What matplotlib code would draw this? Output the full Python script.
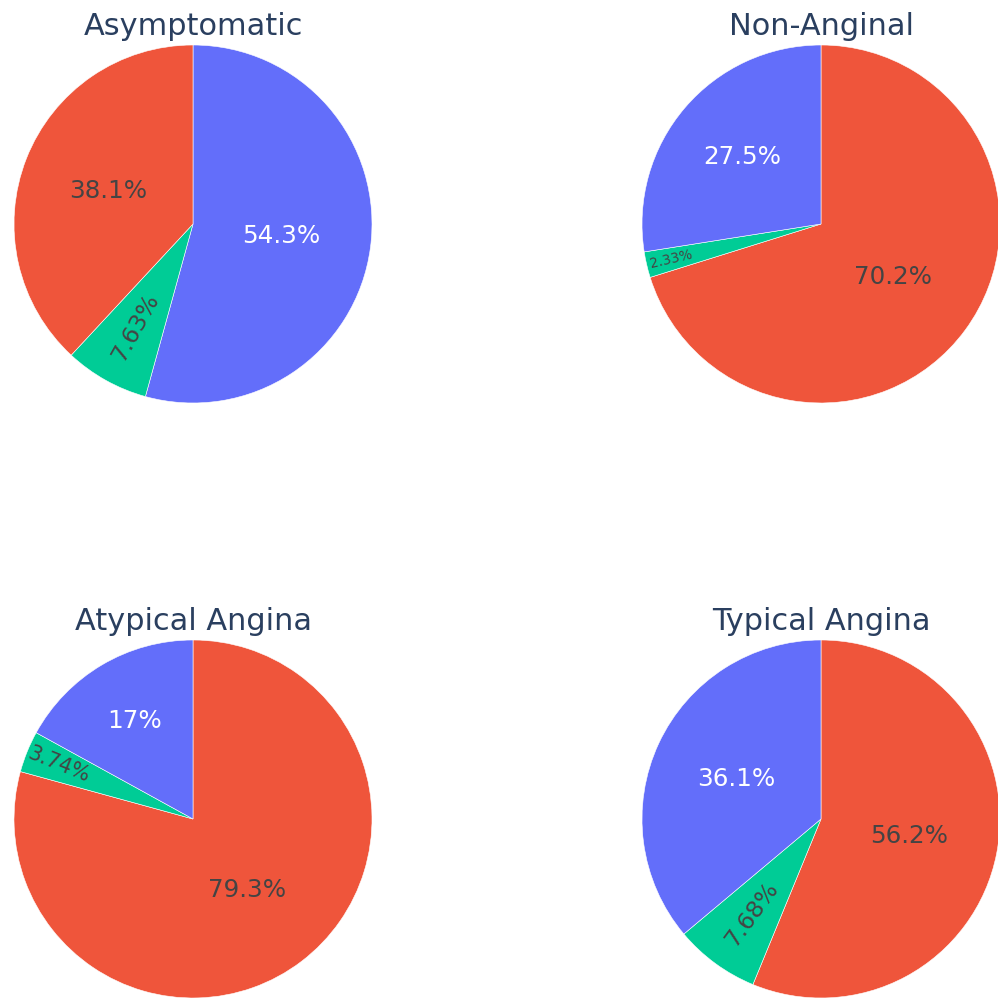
import numpy as np
import matplotlib
matplotlib.use("Agg")
import matplotlib.pyplot as plt

# ---- data ----
titles = ["Asymptomatic", "Non-Anginal", "Atypical Angina", "Typical Angina"]
group_a = [54.3, 27.5, 17.0, 36.1]    # blue
group_b = [38.1, 70.2, 79.3, 56.2]    # red
group_c = [7.63, 2.33, 3.74, 7.68]    # green
# slice order, clockwise from 12 o'clock, for each pie
slice_order = [
    ["Group A", "Group C", "Group B"],
    ["Group B", "Group C", "Group A"],
    ["Group B", "Group C", "Group A"],
    ["Group B", "Group C", "Group A"],
]

values = {"Group A": group_a, "Group B": group_b, "Group C": group_c}
colors = {"Group A": "#636EFA", "Group B": "#EF553B", "Group C": "#00CC96"}
textcolors = {"Group A": "white", "Group B": "#444444", "Group C": "#444444"}

W = H = 998
R_PX = 179
centers_px = [(193, 224), (821, 224), (193, 819), (821, 819)]
BASE_FS = 17.7

fig = plt.figure(figsize=(W / 100, H / 100), dpi=100)
fig.patch.set_facecolor("white")

for i, title in enumerate(titles):
    cx, cy = centers_px[i]
    ax = fig.add_axes([(cx - R_PX) / W, (H - cy - R_PX) / H, 2 * R_PX / W, 2 * R_PX / H])
    ax.axis("off")

    labels = slice_order[i]
    v = [values[l][i] for l in labels]
    wedges, _ = ax.pie(v, colors=[colors[l] for l in labels], startangle=90,
                       counterclock=False, radius=1, center=(0, 0),
                       wedgeprops=dict(linewidth=0.4, edgecolor="white"), frame=False)
    ax.set_xlim(-1, 1)
    ax.set_ylim(-1, 1)
    ax.set_aspect("auto")

    total = sum(v)
    for w, val, lab in zip(wedges, v, labels):
        f = val / total
        mid = np.deg2rad((w.theta1 + w.theta2) / 2)
        span = np.deg2rad(abs(w.theta2 - w.theta1))
        txt = "{:.3g}%".format(f * 100)
        if f >= 0.12:
            r = 0.5 + 0.6 * max(0.0, 0.4 - f)
            rot = 0
            fs = BASE_FS
        else:
            r = 0.95 - 3.8 * f
            deg = np.rad2deg(mid)
            rot = ((deg + 90) % 180) - 90
            chord_px = 2 * r * np.sin(span / 2) * R_PX
            fs = min(16.8, chord_px / 1.65 * 72 / 100)
        ax.text(r * np.cos(mid), r * np.sin(mid), txt, ha="center", va="center",
                rotation=rot, rotation_mode="anchor", fontsize=fs,
                color=textcolors[lab], family="DejaVu Sans")

    ax.text(0, 1 + 10 / R_PX, title, ha="center", va="baseline", fontsize=21.9,
            color="#2a3f5f", family="DejaVu Sans", clip_on=False)

fig.savefig("out.png", dpi=100, facecolor="white")
